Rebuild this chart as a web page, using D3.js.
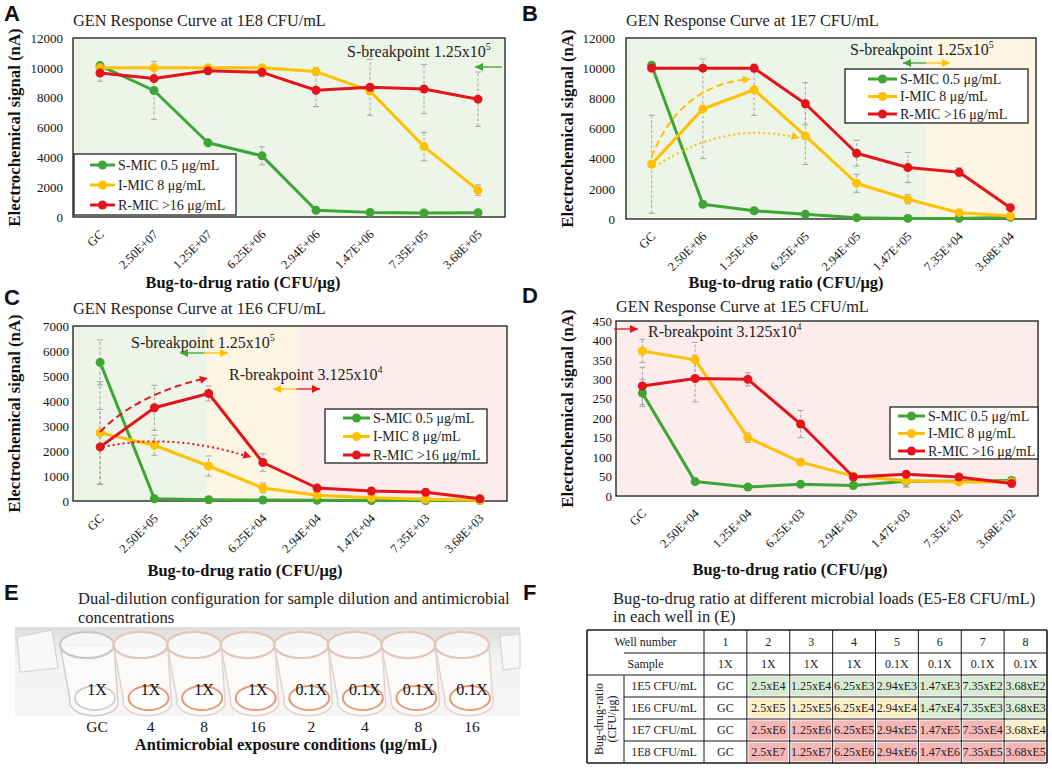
<!DOCTYPE html>
<html><head><meta charset="utf-8">
<script src="https://cdn.jsdelivr.net/npm/d3@7/dist/d3.min.js"></script>
<style>
body{margin:0;background:#fff}
svg{display:block}
svg text{font-family:"Liberation Serif","Times New Roman",serif}
svg text.sans{font-family:"Liberation Sans",Arial,sans-serif}
</style>
</head><body>
<svg id="fig" width="1052" height="769"></svg>
<script>
// ---- data ----
const seriesKeys = ['S', 'I', 'R'];
const seriesNames = ['S-MIC 0.5 μg/mL', 'I-MIC 8 μg/mL', 'R-MIC >16 μg/mL'];

const xLabelsA = ['GC', '2.50E+07', '1.25E+07', '6.25E+06', '2.94E+06', '1.47E+06', '7.35E+05', '3.68E+05'];
const sA = [10150, 8480, 4980, 4100, 450, 310, 270, 290];
const iA = [10000, 10000, 10000, 10000, 9750, 8450, 4720, 1800];
const rA = [9650, 9280, 9800, 9700, 8500, 8700, 8580, 7900];
const errSA = [0, 1950, 0, 600, 0, 0, 0, 0];
const errIA = [0, 0, 0, 0, 250, 0, 950, 350];
const errRA = [550, 0, 250, 300, 1100, 1880, 1650, 1820];

const xLabelsB = ['GC', '2.50E+06', '1.25E+06', '6.25E+05', '2.94E+05', '1.47E+05', '7.35E+04', '3.68E+04'];
const sB = [10200, 980, 550, 310, 90, 40, 40, 110];
const iB = [3630, 7300, 8570, 5510, 2370, 1310, 420, 200];
const rB = [10000, 10000, 10000, 7640, 4360, 3410, 3100, 750];
const errSB = [0, 0, 0, 0, 0, 0, 0, 0];
const errIB = [3250, 3300, 1700, 1900, 600, 300, 0, 0];
const errRB = [0, 0, 250, 1400, 850, 1000, 300, 0];

const xLabelsC = ['GC', '2.50E+05', '1.25E+05', '6.25E+04', '2.94E+04', '1.47E+04', '7.35E+03', '3.68E+03'];
const sC = [5545, 90, 50, 40, 30, 20, 20, 20];
const iC = [2725, 2230, 1400, 520, 230, 130, 70, 30];
const rC = [2165, 3730, 4300, 1540, 520, 400, 350, 90];
const errSC = [900, 0, 0, 0, 0, 0, 0, 0];
const errIC = [2050, 400, 400, 200, 0, 0, 0, 0];
const errRC = [1500, 900, 300, 350, 0, 80, 100, 0];

const xLabelsD = ['GC', '2.50E+04', '1.25E+04', '6.25E+03', '2.94E+03', '1.47E+03', '7.35E+02', '3.68E+02'];
const sD = [265, 37, 23, 30, 27, 38, 38, 40];
const iD = [373, 350, 150, 87, 51, 39, 36, 36];
const rD = [283, 302, 300, 185, 49, 56, 49, 32];
const errSD = [35, 0, 0, 0, 0, 15, 0, 0];
const errID = [30, 45, 12, 8, 0, 15, 0, 0];
const errRD = [48, 60, 17, 35, 0, 0, 0, 0];

// panel E
const wellSample = ['1X', '1X', '1X', '1X', '0.1X', '0.1X', '0.1X', '0.1X'];
const wellConc = ['GC', '4', '8', '16', '2', '4', '8', '16'];

// panel F
const wellNumbers = ['1', '2', '3', '4', '5', '6', '7', '8'];
const loadRows = ['1E5 CFU/mL', '1E6 CFU/mL', '1E7 CFU/mL', '1E8 CFU/mL'];
const ratioTable = [
  ['GC', '2.5xE4', '1.25xE4', '6.25xE3', '2.94xE3', '1.47xE3', '7.35xE2', '3.68xE2'],
  ['GC', '2.5xE5', '1.25xE5', '6.25xE4', '2.94xE4', '1.47xE4', '7.35xE3', '3.68xE3'],
  ['GC', '2.5xE6', '1.25xE6', '6.25xE5', '2.94xE5', '1.47xE5', '7.35xE4', '3.68xE4'],
  ['GC', '2.5xE7', '1.25xE7', '6.25xE6', '2.94xE6', '1.47xE6', '7.35xE5', '3.68xE5']
];
const ratioClass = [
  ['', 'S', 'S', 'S', 'S', 'S', 'S', 'S'],
  ['', 'I', 'I', 'I', 'I', 'S', 'S', 'S'],
  ['', 'R', 'R', 'R', 'R', 'R', 'R', 'I'],
  ['', 'R', 'R', 'R', 'R', 'R', 'R', 'R']
];

// ---- styles ----
const COL = {S: '#3fa535', I: '#ffc000', R: '#e3141b'};
const ZONE = {S: '#ecf5e8', I: '#fef5e3', R: '#fcedec'};
const CELL = {S: '#d8ecd3', I: '#fdf0c8', R: '#f5b6b5'};

const svg = d3.select('#fig');

const panels = [
  {
    letter: 'A', lx: 4, ly: 21, title: 'GEN Response Curve at 1E8 CFU/mL', ty: 26,
    box: [73, 38, 505, 217], labels: xLabelsA, yMax: 12000, yStep: 2000,
    values: [sA, iA, rA], errs: [errSA, errIA, errRA],
    tickGap: 10, yTitleX: 20, xTitleX: 243, xTitleY: 288,
    zones: [[-0.5, 7.5, 'S']],
    legend: {x: 74, y: 154, w: 162, h: 61, pad: 11, row: 20, l0: 16, l1: 41, tx: 44},
    notes: [{x: 347, y: 57, text: 'S-breakpoint 1.25x10', sup: '5'}],
    arrows: [{x0: 475, x1: 502, y: 67, c0: 'S', c1: 'S', head: 'start'}],
    curves: []
  },
  {
    letter: 'B', lx: 522, ly: 21, title: 'GEN Response Curve at 1E7 CFU/mL', ty: 26,
    box: [626, 38, 1036, 219], labels: xLabelsB, yMax: 12000, yStep: 2000,
    values: [sB, iB, rB], errs: [errSB, errIB, errRB],
    tickGap: 11, yTitleX: 573, xTitleX: 786, xTitleY: 288,
    zones: [[-0.5, 5.35, 'S'], [5.35, 7.5, 'I']],
    legend: {x: 845, y: 69, w: 183, h: 54, pad: 10, row: 17.5, l0: 23, l1: 52, tx: 55},
    notes: [{x: 850, y: 55, text: 'S-breakpoint 1.25x10', sup: '5'}],
    arrows: [{x0: 903, x1: 950, y: 63, c0: 'S', c1: 'I', head: 'both'}],
    curves: [
      {from: [0, 4110], ctrl: [0.55, 8880], to: [1.9, 9280], dash: '7,4', c: 'I'},
      {from: [0.15, 3650], ctrl: [1.5, 6560], to: [2.85, 5370], dash: '2,3', c: 'I'}
    ]
  },
  {
    letter: 'C', lx: 4, ly: 305, title: 'GEN Response Curve at 1E6 CFU/mL', ty: 314,
    box: [73, 326, 507, 501], labels: xLabelsC, yMax: 7000, yStep: 1000,
    values: [sC, iC, rC], errs: [errSC, errIC, errRC],
    tickGap: 4, yTitleX: 20, xTitleX: 245, xTitleY: 576,
    zones: [[-0.5, 1.97, 'S'], [1.97, 3.67, 'I'], [3.67, 7.5, 'R']],
    legend: {x: 325, y: 409, w: 162, h: 54, pad: 9, row: 18.5, l0: 18, l1: 45, tx: 48},
    notes: [
      {x: 131, y: 348, text: 'S-breakpoint 1.25x10', sup: '5'},
      {x: 229, y: 380, text: 'R-breakpoint 3.125x10', sup: '4'}
    ],
    arrows: [
      {x0: 180, x1: 228, y: 353, c0: 'S', c1: 'I', head: 'both'},
      {x0: 273, x1: 320, y: 389, c0: 'I', c1: 'R', head: 'both'}
    ],
    curves: [
      {from: [0, 2760], ctrl: [0.65, 4240], to: [1.95, 4920], dash: '7,4', c: 'R'},
      {from: [0.05, 2160], ctrl: [1.3, 2760], to: [2.75, 1760], dash: '2,3', c: 'R'}
    ]
  },
  {
    letter: 'D', lx: 522, ly: 303, title: 'GEN Response Curve at 1E5 CFU/mL', ty: 312,
    box: [616, 321, 1038, 496], labels: xLabelsD, yMax: 450, yStep: 50,
    values: [sD, iD, rD], errs: [errSD, errID, errRD],
    tickGap: 4, yTitleX: 573, xTitleX: 790, xTitleY: 575,
    zones: [[-0.5, 7.5, 'R']],
    legend: {x: 890, y: 407, w: 148, h: 52, pad: 9, row: 17.5, l0: 8, l1: 35, tx: 38},
    notes: [{x: 648, y: 337, text: 'R-breakpoint 3.125x10', sup: '4'}],
    arrows: [{x0: 614, x1: 638, y: 329, c0: 'R', c1: 'R', head: 'end'}],
    curves: []
  }
];

function head(g, x, y, angle, color) {
  // small triangle pointing along angle (radians)
  const len = 8, half = 4;
  const ca = Math.cos(angle), sa = Math.sin(angle);
  const bx = x - ca * len, by = y - sa * len;
  g.append('path')
    .attr('d', `M${x},${y}L${bx - sa * half},${by + ca * half}L${bx + sa * half},${by - ca * half}Z`)
    .attr('fill', color);
}

function drawArrow(g, a) {
  const mid = (a.x0 + a.x1) / 2;
  g.append('line').attr('x1', a.x0).attr('x2', mid).attr('y1', a.y).attr('y2', a.y)
    .attr('stroke', COL[a.c0]).attr('stroke-width', 1.3);
  g.append('line').attr('x1', mid).attr('x2', a.x1).attr('y1', a.y).attr('y2', a.y)
    .attr('stroke', COL[a.c1]).attr('stroke-width', 1.3);
  if (a.head === 'start' || a.head === 'both') head(g, a.x0, a.y, Math.PI, COL[a.c0]);
  if (a.head === 'end' || a.head === 'both') head(g, a.x1, a.y, 0, COL[a.c1]);
}

function boldText(sel) {
  return sel.style('font-weight', 'bold').style('fill', '#111');
}

function drawPanel(p) {
  const g = svg.append('g');
  const [L, T, R, B] = p.box;
  const x = d3.scalePoint().domain(p.labels).range([L, R]).padding(0.5);
  const xi = i => x(p.labels[0]) + i * x.step();
  const y = d3.scaleLinear().domain([0, p.yMax]).range([B, T]);

  // background zones
  g.selectAll('rect.zone').data(p.zones).join('rect')
    .attr('class', 'zone')
    .attr('x', z => Math.max(L, xi(z[0])))
    .attr('width', z => Math.min(R, xi(z[1])) - Math.max(L, xi(z[0])))
    .attr('y', T).attr('height', B - T)
    .attr('fill', z => ZONE[z[2]]);

  g.append('rect').attr('x', L).attr('y', T).attr('width', R - L).attr('height', B - T)
    .attr('fill', 'none').attr('stroke', '#1a1a1a').attr('stroke-width', 1.3);

  // y axis
  const ya = g.append('g').attr('transform', `translate(${L},0)`)
    .call(d3.axisLeft(y).tickValues(d3.range(0, p.yMax + 1, p.yStep))
      .tickFormat(d3.format('d')).tickSize(0).tickPadding(p.tickGap));
  ya.select('.domain').remove();
  ya.attr('font-family', null).attr('font-size', 13);
  ya.selectAll('text').attr('fill', '#111');

  // x axis
  const xa = g.append('g').attr('transform', `translate(0,${B})`)
    .call(d3.axisBottom(x).tickSize(0));
  xa.select('.domain').remove();
  xa.attr('font-family', null).attr('font-size', 12.5);
  xa.selectAll('text')
    .attr('y', 0).attr('dy', '0.35em').attr('fill', '#111')
    .attr('text-anchor', 'end')
    .attr('transform', 'translate(1,15) rotate(-45)');

  // titles
  g.append('text').attr('class', 'sans').attr('x', p.lx).attr('y', p.ly).text(p.letter)
    .attr('font-weight', 'bold').attr('font-size', 22).attr('fill', '#111');
  g.append('text').attr('x', L).attr('y', p.ty).text(p.title)
    .attr('font-size', 16.3).attr('fill', '#222');
  boldText(g.append('text').attr('transform', `translate(${p.yTitleX},${(T + B) / 2}) rotate(-90)`)
    .attr('text-anchor', 'middle').text('Electrochemical signal (nA)').attr('font-size', 16.8));
  boldText(g.append('text').attr('x', p.xTitleX).attr('y', p.xTitleY).attr('text-anchor', 'middle')
    .text('Bug-to-drug ratio (CFU/μg)').attr('font-size', 16.4));

  // error bars
  const errData = [];
  p.values.forEach((vals, k) => vals.forEach((v, i) => {
    const e = p.errs[k][i];
    if (e > 0) errData.push({i, lo: v - e, hi: v + e});
  }));
  const eg = g.append('g').attr('stroke', '#a5a5a5').attr('stroke-width', 1);
  eg.selectAll('line.eb').data(errData).join('line').attr('class', 'eb')
    .attr('x1', d => xi(d.i)).attr('x2', d => xi(d.i))
    .attr('y1', d => y(Math.max(0, d.lo))).attr('y2', d => y(d.hi))
    .attr('stroke-dasharray', '3,2');
  ['lo', 'hi'].forEach(key => {
    eg.selectAll('line.cap' + key).data(errData).join('line').attr('class', 'cap' + key)
      .attr('x1', d => xi(d.i) - 3).attr('x2', d => xi(d.i) + 3)
      .attr('y1', d => y(Math.max(0, d[key]))).attr('y2', d => y(Math.max(0, d[key])));
  });

  // series
  const line = d3.line().x((d, i) => x(p.labels[i])).y(d => y(d));
  p.values.forEach((vals, k) => {
    const c = COL[seriesKeys[k]];
    g.append('path').datum(vals).attr('d', line)
      .attr('fill', 'none').attr('stroke', c).attr('stroke-width', 3).attr('stroke-linejoin', 'round');
    g.selectAll('circle.s' + k).data(vals).join('circle').attr('class', 's' + k)
      .attr('cx', (d, i) => x(p.labels[i])).attr('cy', d => y(d)).attr('r', 4.5).attr('fill', c);
  });

  // curved annotation arrows
  p.curves.forEach(cv => {
    const [x0, y0] = [xi(cv.from[0]), y(cv.from[1])];
    const [xc, yc] = [xi(cv.ctrl[0]), y(cv.ctrl[1])];
    const [x1, y1] = [xi(cv.to[0]), y(cv.to[1])];
    g.append('path').attr('d', `M${x0},${y0}Q${xc},${yc} ${x1},${y1}`)
      .attr('fill', 'none').attr('stroke', COL[cv.c]).attr('stroke-width', 2)
      .attr('stroke-dasharray', cv.dash);
    head(g, x1 + 2, y1, Math.atan2(y1 - yc, x1 - xc), COL[cv.c]);
  });

  // breakpoint notes
  p.notes.forEach(n => {
    const t = g.append('text').attr('x', n.x).attr('y', n.y)
      .attr('font-size', 16).attr('fill', '#222');
    t.append('tspan').text(n.text);
    t.append('tspan').text(n.sup).attr('font-size', 10).attr('dy', -7);
  });
  p.arrows.forEach(a => drawArrow(g, a));

  // legend
  const lg = p.legend;
  g.append('rect').attr('x', lg.x).attr('y', lg.y).attr('width', lg.w).attr('height', lg.h)
    .attr('fill', '#fff').attr('stroke', '#222').attr('stroke-width', 1.3);
  seriesNames.forEach((name, k) => {
    const yy = lg.y + lg.pad + k * lg.row;
    const c = COL[seriesKeys[k]];
    g.append('line').attr('x1', lg.x + lg.l0).attr('x2', lg.x + lg.l1).attr('y1', yy).attr('y2', yy)
      .attr('stroke', c).attr('stroke-width', 3);
    g.append('circle').attr('cx', lg.x + (lg.l0 + lg.l1) / 2).attr('cy', yy).attr('r', 4.5).attr('fill', c);
    g.append('text').attr('x', lg.x + lg.tx).attr('y', yy).attr('dy', '0.35em').text(name)
      .attr('font-size', 14).attr('fill', '#222');
  });
}

panels.forEach(drawPanel);

// ---- panel E: well strip ----
(function drawWells() {
  const g = svg.append('g');
  g.append('text').attr('class', 'sans').attr('x', 4).attr('y', 600).text('E')
    .attr('font-weight', 'bold').attr('font-size', 22).attr('fill', '#111');
  const tt = g.append('text').attr('font-size', 16.5).attr('fill', '#222');
  tt.append('tspan').attr('x', 78).attr('y', 604).text('Dual-dilution configuration for sample dilution and antimicrobial');
  tt.append('tspan').attr('x', 78).attr('y', 623).text('concentrations');

  const defs = svg.append('defs');
  const grad = defs.append('linearGradient').attr('id', 'photo').attr('x1', 0).attr('x2', 0).attr('y1', 0).attr('y2', 1);
  grad.append('stop').attr('offset', '0%').attr('stop-color', '#dedddb');
  grad.append('stop').attr('offset', '35%').attr('stop-color', '#f4f3f1');
  grad.append('stop').attr('offset', '100%').attr('stop-color', '#f6f5f3');

  g.append('rect').attr('x', 15).attr('y', 627).attr('width', 505).attr('height', 89).attr('fill', 'url(#photo)');
  // plastic tabs
  g.append('path').attr('d', 'M17,637 L52,630 L58,668 L20,672 Z')
    .attr('fill', '#f8f8f8').attr('stroke', '#d4d4d4').attr('stroke-width', 1.2);
  g.append('path').attr('d', 'M500,636 L520,634 L520,668 L503,670 Z')
    .attr('fill', '#f8f8f8').attr('stroke', '#d4d4d4').attr('stroke-width', 1.2);

  const xw = d3.scalePoint().domain(d3.range(wellSample.length)).range([97, 472]);
  const wells = g.selectAll('g.well').data(wellSample).join('g').attr('class', 'well')
    .attr('transform', (d, i) => `translate(${xw(i)},0)`);
  wells.append('path')
    .attr('d', 'M-37,645 L-27,700 A23,13 0 0 0 21,704 L17,645 Z')
    .attr('fill', 'rgba(255,255,255,0.55)').attr('stroke', (d, i) => i === 0 ? '#cdcdcd' : '#e3d2cc').attr('stroke-width', 1.4);
  wells.append('ellipse').attr('cx', -10).attr('cy', 645).attr('rx', 27).attr('ry', 13)
    .attr('fill', 'rgba(250,250,250,0.8)').attr('stroke', (d, i) => i === 0 ? '#c8c8c8' : '#e0c6bc').attr('stroke-width', 2.2);
  wells.append('ellipse').attr('cx', -2).attr('cy', 698).attr('rx', 20).attr('ry', 12)
    .attr('fill', '#fff').attr('stroke', (d, i) => i === 0 ? '#cfcfcf' : '#e59a76').attr('stroke-width', 2);
  wells.append('text').attr('x', 0).attr('y', 695).attr('text-anchor', 'middle').text(d => d)
    .attr('font-size', 16).attr('fill', '#111');

  g.selectAll('text.conc').data(wellConc).join('text').attr('class', 'conc')
    .attr('x', (d, i) => xw(i)).attr('y', 732).attr('text-anchor', 'middle').text(d => d)
    .attr('font-size', 15.5).attr('fill', '#111');
  boldText(g.append('text').attr('x', 286).attr('y', 750).attr('text-anchor', 'middle')
    .text('Antimicrobial exposure conditions (μg/mL)').attr('font-size', 16.4));
})();

// ---- panel F: table ----
(function drawTable() {
  const g = svg.append('g');
  g.append('text').attr('class', 'sans').attr('x', 523).attr('y', 600).text('F')
    .attr('font-weight', 'bold').attr('font-size', 22).attr('fill', '#111');
  const tt = g.append('text').attr('font-size', 16.6).attr('fill', '#222');
  tt.append('tspan').attr('x', 613).attr('y', 604).text('Bug-to-drug ratio at different microbial loads (E5-E8 CFU/mL)');
  tt.append('tspan').attr('x', 613).attr('y', 622).text('in each well in (E)');

  const rowEdges = [630, 653, 675, 697, 719, 741, 763];
  const xL = 587, xH = 624, xLab = 704, xR = 1047;
  const xc = d3.scaleBand().domain(d3.range(wellNumbers.length)).range([xLab, xR]);
  const fs = 12;
  const txt = (x, y, s) => g.append('text').attr('x', x).attr('y', y).attr('dy', '0.35em')
    .attr('text-anchor', 'middle').text(s).attr('font-size', fs).attr('fill', '#222');

  // coloured cells
  ratioTable.forEach((row, r) => row.forEach((v, c) => {
    const cls = ratioClass[r][c];
    if (cls) {
      g.append('rect').attr('x', xc(c) + 1.5).attr('y', rowEdges[r + 2] + 1.5)
        .attr('width', xc.bandwidth() - 3).attr('height', rowEdges[r + 3] - rowEdges[r + 2] - 3)
        .attr('fill', CELL[cls]);
    }
  }));

  // grid lines
  const gl = g.append('g').attr('stroke', '#1a1a1a').attr('stroke-width', 1);
  rowEdges.forEach((yy, k) => {
    const x0 = (k === 0 || k === 2 || k === rowEdges.length - 1) ? xL : xH;
    gl.append('line').attr('x1', x0).attr('x2', xR).attr('y1', yy).attr('y2', yy)
      .attr('stroke-width', (k === 0 || k === rowEdges.length - 1) ? 1.6 : 1);
  });
  const colEdges = [xL, xH, xLab].concat(d3.range(1, wellNumbers.length + 1).map(c => xLab + c * xc.bandwidth()));
  colEdges.forEach((xx, k) => {
    const y0 = k === 1 ? rowEdges[2] : rowEdges[0];
    gl.append('line').attr('x1', xx).attr('x2', xx).attr('y1', y0).attr('y2', rowEdges[rowEdges.length - 1])
      .attr('stroke-width', (k === 0 || k === colEdges.length - 1) ? 1.6 : 1);
  });

  const mid = k => (rowEdges[k] + rowEdges[k + 1]) / 2;
  txt((xL + xLab) / 2, mid(0), 'Well number');
  txt((xL + xLab) / 2, mid(1), 'Sample');
  wellNumbers.forEach((w, c) => txt(xc(c) + xc.bandwidth() / 2, mid(0), w));
  wellSample.forEach((s, c) => txt(xc(c) + xc.bandwidth() / 2, mid(1), s));
  loadRows.forEach((lab, r) => {
    txt((xH + xLab) / 2, mid(r + 2), lab);
    ratioTable[r].forEach((v, c) => txt(xc(c) + xc.bandwidth() / 2, mid(r + 2), v));
  });
  const yMid = (rowEdges[2] + rowEdges[6]) / 2;
  const rt = g.append('text').attr('transform', `translate(${(xL + xH) / 2},${yMid}) rotate(-90)`)
    .attr('text-anchor', 'middle').attr('font-size', fs).attr('fill', '#222');
  rt.append('tspan').attr('x', 0).attr('dy', '-0.25em').text('Bug-drug-ratio');
  rt.append('tspan').attr('x', 0).attr('dy', '1.1em').text('(CFU/μg)');
})();
</script>
</body></html>
